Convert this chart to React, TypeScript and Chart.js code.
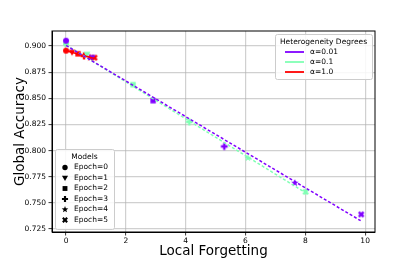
import React, { useEffect, useRef } from 'react';
import { Chart, registerables } from 'chart.js';
Chart.register(...registerables);

// ---- data ----
const seriesNames = ['α=0.01', 'α=0.1', 'α=1.0'];
const seriesColors = ['#8000ff', '#80ffb4', '#ff0000'];
const epochLabels = ['Epoch=0', 'Epoch=1', 'Epoch=2', 'Epoch=3', 'Epoch=4', 'Epoch=5'];
const epochMarkers = ['circle', 'triDown', 'square', 'plus', 'star', 'xfill'];

const forgetA001 = [0, 0.87, 2.91, 5.29, 7.65, 9.87];
const accA001 = [0.905, 0.889, 0.8477, 0.804, 0.769, 0.739];
const forgetA01 = [0, 0.7, 2.24, 4.12, 6.08, 8.01];
const accA01 = [0.902, 0.892, 0.863, 0.8275, 0.793, 0.7606];
const forgetA10 = [0, 0.2, 0.4, 0.6, 0.8, 0.95];
const accA10 = [0.8955, 0.894, 0.8925, 0.8905, 0.889, 0.8888];

const fitXA001 = [0, 9.85];
const fitYA001 = [0.9005, 0.733];
const fitXA01 = [0, 8.05];
const fitYA01 = [0.901, 0.759];
const fitXA10 = [0, 0.95];
const fitYA10 = [0.8955, 0.888];

const xTicks = [0, 2, 4, 6, 8, 10];
const yTicks = [0.725, 0.75, 0.775, 0.8, 0.825, 0.85, 0.875, 0.9];
const xRange = [-0.47, 10.33];
const yRange = [0.7222, 0.9143];

const FONT = '"DejaVu Sans", sans-serif';

function drawShape(ctx: CanvasRenderingContext2D, shape: string, cx: number, cy: number, s: number) {
  ctx.beginPath();
  if (shape === 'circle') {
    ctx.arc(cx, cy, 3 * s, 0, Math.PI * 2);
  } else if (shape === 'triDown') {
    ctx.moveTo(cx - 3.4 * s, cy - 2.6 * s);
    ctx.lineTo(cx + 3.4 * s, cy - 2.6 * s);
    ctx.lineTo(cx, cy + 3.4 * s);
    ctx.closePath();
  } else if (shape === 'square') {
    ctx.rect(cx - 2.7 * s, cy - 2.7 * s, 5.4 * s, 5.4 * s);
  } else if (shape === 'plus' || shape === 'xfill') {
    const a = 1.2 * s, L = 3.4 * s;
    const pts = [
      [-a, -L], [a, -L], [a, -a], [L, -a], [L, a], [a, a], [a, L], [-a, L], [-a, a], [-L, a], [-L, -a], [-a, -a],
    ];
    const rot = shape === 'xfill' ? Math.PI / 4 : 0;
    pts.forEach(([px, py], i) => {
      const x = px * Math.cos(rot) - py * Math.sin(rot);
      const y = px * Math.sin(rot) + py * Math.cos(rot);
      if (i === 0) ctx.moveTo(cx + x, cy + y); else ctx.lineTo(cx + x, cy + y);
    });
    ctx.closePath();
  } else if (shape === 'star') {
    const R = 3.9 * s, r = 1.6 * s;
    for (let i = 0; i < 10; i++) {
      const ang = -Math.PI / 2 + (i * Math.PI) / 5;
      const rr = i % 2 === 0 ? R : r;
      const x = cx + rr * Math.cos(ang), y = cy + rr * Math.sin(ang);
      if (i === 0) ctx.moveTo(x, y); else ctx.lineTo(x, y);
    }
    ctx.closePath();
  }
  ctx.fill();
}

function makeMarker(shape: string, color: string): HTMLCanvasElement {
  const c = document.createElement('canvas');
  c.width = 12; c.height = 12;
  const ctx = c.getContext('2d')!;
  ctx.fillStyle = color;
  drawShape(ctx, shape, 6, 6, 1);
  return c;
}

const legendPlugin = {
  id: 'customLegends',
  afterDraw(chart: any) {
    const ctx = chart.ctx as CanvasRenderingContext2D;
    const a = chart.chartArea;
    ctx.save();
    // frame
    ctx.strokeStyle = '#000';
    ctx.lineWidth = 1;
    ctx.strokeRect(a.left, a.top, a.right - a.left, a.bottom - a.top);

    const box = (x: number, y: number, w: number, h: number) => {
      ctx.beginPath();
      ctx.roundRect(x + 0.5, y + 0.5, w, h, 2);
      ctx.fillStyle = 'rgba(255,255,255,0.85)';
      ctx.fill();
      ctx.strokeStyle = '#cccccc';
      ctx.lineWidth = 1;
      ctx.stroke();
    };
    ctx.font = `7.5px ${FONT}`;
    ctx.textBaseline = 'middle';

    // Heterogeneity legend (upper right)
    const hw = 97, hh = 45;
    const hx = a.right - 3 - hw, hy = a.top + 3;
    box(hx, hy, hw, hh);
    ctx.fillStyle = '#000';
    ctx.textAlign = 'center';
    ctx.fillText('Heterogeneity Degrees', hx + hw / 2, hy + 8);
    ctx.textAlign = 'left';
    seriesNames.forEach((name, i) => {
      const y = hy + 18 + i * 10;
      ctx.beginPath();
      ctx.strokeStyle = seriesColors[i];
      ctx.lineWidth = 1.8;
      ctx.moveTo(hx + 10, y);
      ctx.lineTo(hx + 29, y);
      ctx.stroke();
      ctx.fillStyle = '#000';
      ctx.fillText(name, hx + 35, y);
    });

    // Models legend (lower left)
    const mw = 59, mh = 80;
    const mx = a.left + 3, my = a.bottom - 3 - mh;
    box(mx, my, mw, mh);
    ctx.fillStyle = '#000';
    ctx.textAlign = 'center';
    ctx.fillText('Models', mx + mw / 2, my + 8);
    ctx.textAlign = 'left';
    epochLabels.forEach((lab, i) => {
      const y = my + 18.5 + i * 10.5;
      ctx.fillStyle = '#000';
      drawShape(ctx, epochMarkers[i], mx + 10, y, 0.9);
      ctx.fillText(lab, mx + 19, y);
    });
    ctx.restore();
  },
};

export default function App() {
  const ref = useRef<HTMLCanvasElement>(null);
  useEffect(() => {
    if (!ref.current) return;
    const markers = seriesColors.map((c) => epochMarkers.map((m) => makeMarker(m, c)));
    const pts = (xs: number[], ys: number[]) => xs.map((x, i) => ({ x, y: ys[i] }));
    const scatterSet = (xs: number[], ys: number[], si: number) => ({
      type: 'scatter' as const,
      label: seriesNames[si],
      data: pts(xs, ys),
      pointStyle: (c: any) => markers[si][c.dataIndex % 6],
      pointRadius: 4,
      backgroundColor: seriesColors[si],
      borderColor: seriesColors[si],
      showLine: false,
      order: 10,
    });
    const lineSet = (xs: number[], ys: number[], si: number, dashed: boolean) => ({
      type: 'line' as const,
      label: seriesNames[si] + ' fit',
      data: pts(xs, ys),
      borderColor: seriesColors[si],
      borderWidth: 1.5,
      borderDash: dashed ? [3, 2] : [],
      pointRadius: 0,
      fill: false,
      showLine: true,
      order: 1,
    });
    const chart = new Chart(ref.current, {
      type: 'scatter',
      data: {
        datasets: [
          scatterSet(forgetA001, accA001, 0),
          scatterSet(forgetA01, accA01, 1),
          scatterSet(forgetA10, accA10, 2),
          lineSet(fitXA001, fitYA001, 0, true),
          lineSet(fitXA01, fitYA01, 1, true),
          lineSet(fitXA10, fitYA10, 2, false),
        ] as any,
      },
      options: {
        animation: false,
        responsive: false,
        layout: { padding: { top: 31, right: 40, left: 0, bottom: 0 } },
        plugins: { legend: { display: false }, tooltip: { enabled: false } },
        scales: {
          x: {
            type: 'linear',
            min: xRange[0],
            max: xRange[1],
            afterBuildTicks: (axis: any) => { axis.ticks = xTicks.map((v) => ({ value: v })); },
            afterFit: (axis: any) => { axis.height = 28; },
            grid: { color: 'rgba(176,176,176,0.6)', lineWidth: 1.2, tickColor: '#000', tickLength: 3.5, tickWidth: 0.8 },
            border: { display: true, color: '#000', width: 1 },
            ticks: { font: { family: FONT, size: 7.5 }, color: '#000', padding: 1, maxRotation: 0, callback: (v: any) => String(v) },
            title: { display: true, text: 'Local Forgetting', font: { family: FONT, size: 13.5 }, color: '#000', padding: { top: 0, bottom: 0 } },
          },
          y: {
            type: 'linear',
            min: yRange[0],
            max: yRange[1],
            afterBuildTicks: (axis: any) => { axis.ticks = yTicks.map((v) => ({ value: v })); },
            afterFit: (axis: any) => { axis.width = 52; },
            grid: { color: 'rgba(176,176,176,0.6)', lineWidth: 1.2, tickColor: '#000', tickLength: 3.5, tickWidth: 0.8 },
            border: { display: true, color: '#000', width: 1 },
            ticks: { font: { family: FONT, size: 7.5 }, color: '#000', padding: 2.5, callback: (v: any) => Number(v).toFixed(3) },
            title: { display: true, text: 'Global Accuracy', font: { family: FONT, size: 13.5 }, color: '#000', padding: { top: 12, bottom: 0 } },
          },
        },
      },
      plugins: [legendPlugin],
    } as any);
    return () => chart.destroy();
  }, []);
  return (
    <div style={{ position: 'fixed', left: 0, top: 0, width: 415, height: 260, background: '#fff' }}>
      <canvas ref={ref} width={415} height={260} style={{ display: 'block', width: 415, height: 260 }} />
    </div>
  );
}
